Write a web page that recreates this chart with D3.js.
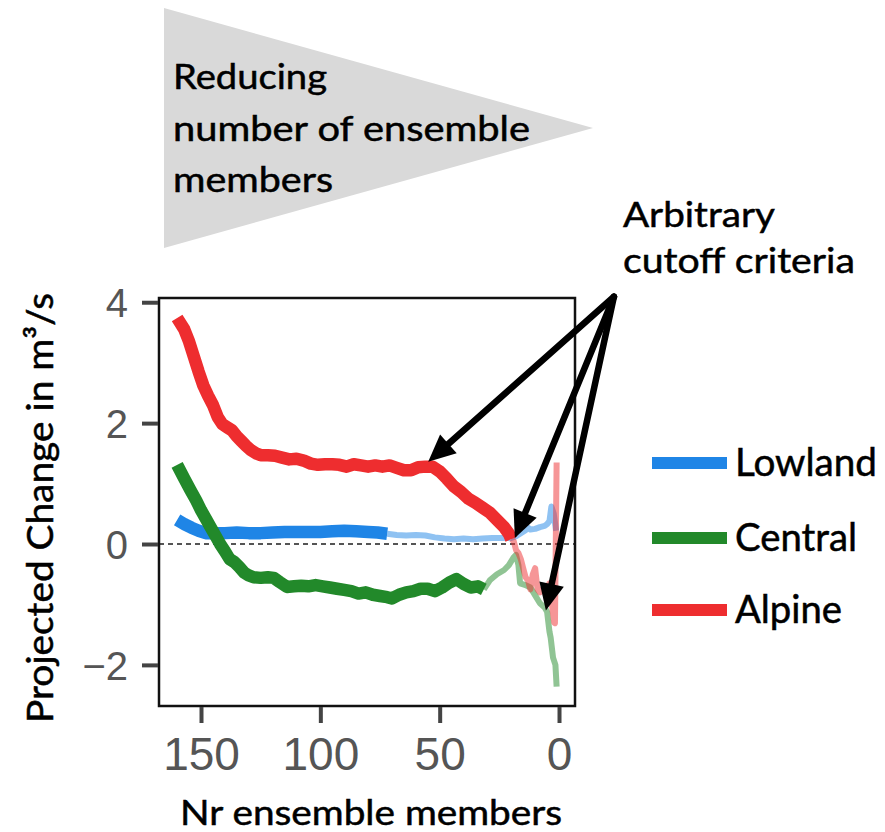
<!DOCTYPE html>
<html>
<head>
<meta charset="utf-8">
<script src="https://cdn.jsdelivr.net/npm/d3@7"></script>
<style>
  html, body { margin: 0; padding: 0; background: #fff; }
  svg { display: block; }
</style>
</head>
<body>
<svg id="chart" width="885" height="832"></svg>
<script>
// ---------- DATA ----------
const seriesNames = ["Lowland", "Central", "Alpine"];
const seriesColors = ["#1f85e6", "#22892a", "#ee2d2f"];

// cutoff (number of members) below which each series is drawn faded
const cutoffs = [72, 31.5, 20];

const lowlandMembers = [160,157,154,151,148,145,140,135,130,125,120,115,110,105,100,95,90,85,80,76,72,
  68,64,60,56,52,48,44,40,36,32,28,24,20,18,16,14,13,12,10,8,6,5,4,3.2,2.2,1.2];
const lowlandValues = [0.40,0.33,0.27,0.22,0.18,0.18,0.18,0.19,0.18,0.18,0.19,0.20,0.20,0.20,0.20,0.21,0.22,0.21,0.20,0.19,0.17,
  0.15,0.14,0.15,0.14,0.11,0.09,0.08,0.09,0.08,0.09,0.10,0.10,0.10,0.13,0.18,0.23,0.27,0.24,0.25,0.28,0.30,0.33,0.38,0.62,0.50,0.22];

const centralMembers = [160,157,154.4,152,150,148,146,144,142,140,138,136,134,132,130,128,125,122,119.5,117,114,111,108,105,102,99,96,93,90,87,84,81,78,75,72,70,67,64,61,58,55,52,49,46,43,40,37,34,31.5,
  29,26,23,21,19,18,17,16.3,14,12,10,8,6,5,4,3.5,2.5,1.5,1];
const centralValues = [1.31,1.08,0.89,0.72,0.56,0.42,0.28,0.14,0.00,-0.12,-0.25,-0.30,-0.38,-0.47,-0.52,-0.55,-0.56,-0.55,-0.56,-0.63,-0.71,-0.70,-0.69,-0.70,-0.68,-0.70,-0.72,-0.74,-0.76,-0.78,-0.82,-0.80,-0.84,-0.86,-0.88,-0.90,-0.84,-0.80,-0.78,-0.74,-0.74,-0.78,-0.72,-0.64,-0.58,-0.66,-0.72,-0.70,-0.75,
  -0.60,-0.50,-0.43,-0.35,-0.22,-0.18,-0.35,-0.65,-0.68,-0.72,-0.85,-0.98,-1.05,-1.12,-1.45,-1.55,-1.88,-2.00,-2.36];

const alpineMembers = [160,157,155,153,151,149,147,145,143,141,139,137,135,133,131,129,127,125,122,119,116,113,110,107,104,101,98,95,92,89,86,83,80,77,74,71,68,65,62,59,56,53,50,47,44,41,38,35,32,29,26,23,21,20,
  19,18,17,16,15,14,13,12,11,10,9,8,7,6,5,4,3,2,1.7,1];
const alpineValues = [3.74,3.55,3.35,3.10,2.85,2.62,2.45,2.30,2.10,1.98,1.93,1.88,1.78,1.70,1.62,1.55,1.50,1.47,1.47,1.46,1.43,1.40,1.41,1.38,1.33,1.31,1.32,1.32,1.31,1.28,1.32,1.30,1.28,1.30,1.28,1.30,1.26,1.22,1.22,1.27,1.28,1.28,1.20,1.08,0.95,0.86,0.75,0.68,0.60,0.52,0.40,0.28,0.17,0.08,
  0.05,-0.10,-0.15,-0.25,-0.40,-0.55,-0.60,-0.75,-0.50,-0.40,-0.75,-0.80,-0.75,-0.70,-0.72,-0.65,-1.00,-1.30,-1.31,1.35];

const xTicks = [150, 100, 50, 0];
const yTicks = [4, 2, 0, -2];
const xTitle = "Nr ensemble members";
const yTitle = "Projected Change in m³/s";
const funnelLines = ["Reducing", "number of ensemble", "members"];
const noteLines = ["Arbitrary", "cutoff criteria"];
// annotation arrows, in data coordinates: common origin and three targets
const arrowOrigin = [-23, 4.09];
const arrowTargets = [[54.8, 1.36], [18.5, 0.1], [5.5, -1.1]];

// ---------- LAYOUT ----------
const svg = d3.select("#chart");
const plot = { left: 159, right: 575, top: 298, bottom: 706 };
const x = d3.scaleLinear().domain([167.6, -6.7]).range([plot.left, plot.right]);
const y = d3.scaleLinear().domain([4.07, -2.68]).range([plot.top, plot.bottom]);
const textFont = "Lato, 'Open Sans', sans-serif";
const tickFont = "'Liberation Sans', Arial, sans-serif";

function heavyText(sel) {
  return sel.attr("fill", "#000").attr("stroke", "#000").attr("stroke-width", 0.5);
}

// funnel triangle
svg.append("polygon")
  .attr("points", "164,8 593,128 164,248")
  .attr("fill", "#d9d9d9");
const funnelW = [154, 357, 160];
funnelLines.forEach((t, i) => {
  heavyText(svg.append("text").attr("x", 173).attr("y", 89 + i * 51.5)
    .attr("font-family", textFont).attr("font-size", 34))
    .attr("textLength", funnelW[i]).attr("lengthAdjust", "spacingAndGlyphs")
    .text(t);
});

// note text
const noteW = [152, 232];
noteLines.forEach((t, i) => {
  heavyText(svg.append("text").attr("x", 623).attr("y", 227 + i * 46)
    .attr("font-family", textFont).attr("font-size", 35))
    .attr("textLength", noteW[i]).attr("lengthAdjust", "spacingAndGlyphs")
    .text(t);
});

// zero line
svg.append("line")
  .attr("x1", plot.left).attr("x2", plot.right)
  .attr("y1", y(0)).attr("y2", y(0))
  .attr("stroke", "#555").attr("stroke-width", 2).attr("stroke-dasharray", "5,4");

// series
const allMembers = [lowlandMembers, centralMembers, alpineMembers];
const allValues = [lowlandValues, centralValues, alpineValues];
const line = d3.line().x(d => x(d[0])).y(d => y(d[1]));
const gLines = svg.append("g");
seriesNames.forEach((name, i) => {
  const pts = allMembers[i].map((m, j) => [m, allValues[i][j]]);
  const strong = pts.filter(p => p[0] >= cutoffs[i]);
  const faded = pts.filter(p => p[0] <= cutoffs[i]);
  gLines.append("path").datum(faded).attr("d", line)
    .attr("fill", "none").attr("stroke", seriesColors[i])
    .attr("stroke-opacity", 0.5).attr("stroke-width", 6)
    .attr("stroke-linejoin", "round");
  gLines.append("path").datum(strong).attr("d", line)
    .attr("fill", "none").attr("stroke", seriesColors[i])
    .attr("stroke-width", 12.5).attr("stroke-linejoin", "round");
});

// frame
svg.append("rect")
  .attr("x", plot.left).attr("y", plot.top)
  .attr("width", plot.right - plot.left).attr("height", plot.bottom - plot.top)
  .attr("fill", "none").attr("stroke", "#111").attr("stroke-width", 2.5);

// axes
const yAxis = d3.axisLeft(y).tickValues(yTicks).tickSize(16).tickPadding(14)
  .tickFormat(d => d < 0 ? "\u2212" + Math.abs(d) : String(d));
const gy = svg.append("g").attr("transform", `translate(${plot.left - 1},0)`).call(yAxis);
gy.select(".domain").remove();
gy.selectAll(".tick line").attr("stroke", "#444").attr("stroke-width", 4);
gy.selectAll(".tick text").attr("font-family", tickFont).attr("font-size", 40)
  .attr("fill", "#555").attr("dy", "0.36em");

const xAxis = d3.axisBottom(x).tickValues(xTicks).tickSize(16).tickPadding(14);
const gx = svg.append("g").attr("transform", `translate(0,${plot.bottom + 1})`).call(xAxis);
gx.select(".domain").remove();
gx.selectAll(".tick line").attr("stroke", "#444").attr("stroke-width", 4);
gx.selectAll(".tick text").attr("font-family", tickFont).attr("font-size", 46)
  .attr("fill", "#555").attr("dy", "0.71em");

// axis titles
heavyText(svg.append("text").attr("x", (plot.left + plot.right) / 2 + 4).attr("y", 825)
  .attr("text-anchor", "middle").attr("font-family", textFont).attr("font-size", 35))
  .attr("textLength", 382).attr("lengthAdjust", "spacingAndGlyphs")
  .text(xTitle);
heavyText(svg.append("text").attr("transform", "translate(53,508) rotate(-90)")
  .attr("text-anchor", "middle").attr("font-family", textFont).attr("font-size", 36))
  .attr("textLength", 430).attr("lengthAdjust", "spacingAndGlyphs")
  .text(yTitle);

// legend
const legendY = [463, 538, 610];
const legendW = [142, 122, 107];
seriesNames.forEach((name, i) => {
  svg.append("line").attr("x1", 652).attr("x2", 727)
    .attr("y1", legendY[i]).attr("y2", legendY[i])
    .attr("stroke", seriesColors[i]).attr("stroke-width", 12);
  heavyText(svg.append("text").attr("x", 735).attr("y", legendY[i] + 13)
    .attr("font-family", textFont).attr("font-size", 38))
    .attr("textLength", legendW[i]).attr("lengthAdjust", "spacingAndGlyphs")
    .text(name);
});

// arrows
const ox = x(arrowOrigin[0]), oy = y(arrowOrigin[1]);
const gA = svg.append("g");
arrowTargets.forEach(t => {
  const tx = x(t[0]), ty = y(t[1]);
  const dx = tx - ox, dy = ty - oy, L = Math.hypot(dx, dy);
  const ux = dx / L, uy = dy / L;
  const headL = 27, headW = 12.5;
  const bx = tx - ux * headL, by = ty - uy * headL;
  gA.append("line").attr("x1", ox).attr("y1", oy).attr("x2", bx + ux * 2).attr("y2", by + uy * 2)
    .attr("stroke", "#000").attr("stroke-width", 6.5).attr("stroke-linecap", "round");
  gA.append("polygon")
    .attr("points", [[tx, ty], [bx - uy * headW, by + ux * headW], [bx + uy * headW, by - ux * headW]].map(p => p.join(",")).join(" "))
    .attr("fill", "#000");
});
</script>
</body>
</html>
